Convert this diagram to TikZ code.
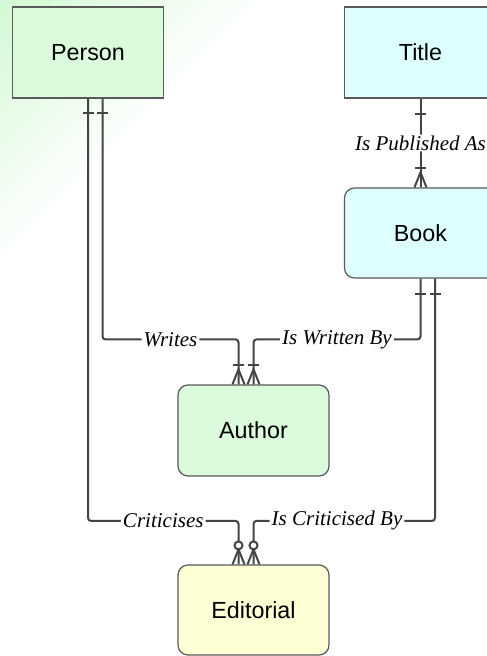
\documentclass[tikz,border=0pt]{standalone}
\usepackage{fontspec}
\setmainfont{Liberation Serif}
\newfontfamily\entfont{Liberation Sans}
\usetikzlibrary{calc}
\definecolor{lineC}{RGB}{68,68,68}
\definecolor{borderC}{RGB}{90,90,90}
\definecolor{greenF}{RGB}{220,250,220}
\definecolor{cyanF}{RGB}{221,255,255}
\definecolor{yellowF}{RGB}{255,255,214}
\definecolor{bgG}{RGB}{210,248,210}
\begin{document}
\begin{tikzpicture}[x=1pt,y=-1pt,
  entity/.style={draw=borderC, line width=1.2pt, minimum width=151pt, minimum height=91pt,
    inner sep=0pt, font=\entfont\fontsize{23.3}{28}\selectfont, text=black},
  weakentity/.style={entity, rounded corners=10pt},
  rel/.style={draw=lineC, line width=2pt, rounded corners=3pt},
  mk/.style={draw=lineC, line width=2pt},
  lbl/.style={fill=white, inner xsep=2pt, inner ysep=1pt, text=black,
    font=\itshape\fontsize{21}{25}\selectfont},
  pics/onebar/.style={code={\draw[mk] (-5.5,#1) -- (5.5,#1);}},
  pics/onemany/.style={code={\draw[mk] (-6,0) -- (0,-15) -- (6,0); \draw[mk] (-5.5,-19) -- (5.5,-19);}},
  pics/zeromany/.style={code={\draw[mk] (-6,0) -- (0,-15) -- (6,0); \draw[mk,fill=white] (0,-19) circle (4);}}
]
\useasboundingbox (0,0) rectangle (487,656);
\clip (0,0) rectangle (487,656);
\fill[white] (0,0) rectangle (487,656);
% diagonal background gradient (top-left corner)
\foreach \t in {270,265,...,5}{
  \pgfmathsetmacro\p{100*(1-\t/272)}
  \fill[bgG!\p!white] (0,0) -- (\t,0) -- (0,\t) -- cycle;
}

% entities
\node[entity, fill=greenF] (person) at (88,52.4) {Person};
\node[entity, fill=cyanF, minimum width=152pt] (title) at (420.5,52.4) {Title};
\node[weakentity, fill=cyanF, minimum width=152pt, minimum height=90pt] (book) at (420.5,233) {Book};
\node[weakentity, fill=greenF] (author) at (253.5,430.5) {Author};
\node[weakentity, fill=yellowF, minimum height=90pt] (editorial) at (253.5,610) {Editorial};

% relationships
\draw[rel] (title.south) -- node[lbl]{Is Published As} (book.north);
\draw[rel] ([xshift=14.5pt]person.south) |- node[lbl,pos=0.75]{Writes}
  ($(author.north)+(-15,-45)$) -- ([xshift=-15pt]author.north);
\draw[rel] (book.south) |- node[lbl,pos=0.75]{Is Written By}
  ($(author.north)+(0,-45)$) -- (author.north);
\draw[rel] (person.south) |- node[lbl,pos=0.75]{Criticises}
  ($(editorial.north)+(-15,-43.5)$) -- ([xshift=-15pt]editorial.north);
\draw[rel] ([xshift=14.5pt]book.south) |- node[lbl,pos=0.77]{Is Criticised By}
  ($(editorial.north)+(0,-43.5)$) -- (editorial.north);

% cardinality marks
\pic at (person.south) {onebar=14};
\pic at ([xshift=14.5pt]person.south) {onebar=14};
\pic at (title.south) {onebar=15};
\pic at (book.north) {onemany};
\pic at (book.south) {onebar=15};
\pic at ([xshift=14.5pt]book.south) {onebar=15};
\pic at ([xshift=-15pt]author.north) {onemany};
\pic at (author.north) {onemany};
\pic at ([xshift=-15pt]editorial.north) {zeromany};
\pic at (editorial.north) {zeromany};
\end{tikzpicture}
\end{document}
